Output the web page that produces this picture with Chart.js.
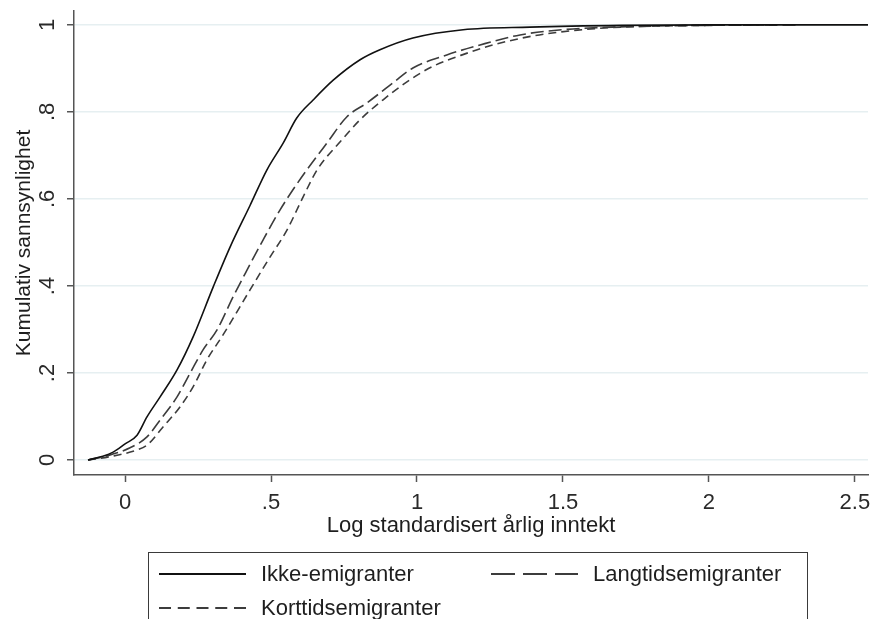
<!DOCTYPE html>
<html><head><meta charset="utf-8">
<script src="https://cdn.jsdelivr.net/npm/chart.js@4.4.1/dist/chart.umd.min.js"></script>
<style>
html,body{margin:0;padding:0;background:#fff;}
#wrap{position:relative;width:872px;height:619px;overflow:hidden;}
#legend{position:absolute;left:148px;top:552px;width:660px;height:90px;border:1.5px solid #3a3a3a;box-sizing:border-box;font-family:"Liberation Sans",Arial,sans-serif;font-size:22px;color:#1e1e1e;}
.item{position:absolute;display:flex;align-items:center;height:26px;white-space:nowrap;}
.item svg{margin-right:15px;}
</style></head>
<body>
<div id="wrap">
<canvas id="c" width="872" height="619"></canvas>
<div id="legend"></div>
</div>
<script>
// ---- data ----
const ikkeX = [-0.127,-0.08,-0.041,0.0,0.041,0.075,0.12,0.178,0.233,0.302,0.36,0.428,0.486,0.542,0.588,0.645,0.713,0.805,0.873,0.986,1.158,1.387,1.7,2.0,2.545];
const ikkeY = [0,0.008,0.018,0.037,0.057,0.099,0.145,0.207,0.283,0.398,0.49,0.585,0.667,0.729,0.786,0.828,0.873,0.92,0.943,0.970,0.989,0.995,0.999,1,1];

const langX = [-0.127,-0.06,0.017,0.075,0.12,0.178,0.223,0.267,0.315,0.37,0.418,0.473,0.531,0.575,0.623,0.692,0.76,0.829,0.918,0.986,1.102,1.216,1.353,1.5,1.67,2.0,2.3];
const langY = [0,0.01,0.028,0.053,0.092,0.145,0.2,0.253,0.299,0.375,0.437,0.506,0.575,0.621,0.667,0.729,0.789,0.821,0.867,0.901,0.931,0.954,0.977,0.989,0.995,0.999,1];

const kortX = [-0.127,-0.05,0.041,0.075,0.13,0.188,0.233,0.28,0.336,0.428,0.497,0.555,0.61,0.658,0.743,0.805,0.884,0.976,1.055,1.15,1.25,1.4,1.55,1.7,2.0,2.25];
const kortY = [0,0.008,0.023,0.034,0.076,0.122,0.168,0.23,0.288,0.391,0.467,0.529,0.605,0.667,0.736,0.782,0.828,0.874,0.905,0.93,0.952,0.975,0.988,0.995,0.999,1];

const seriesNames = ["Ikke-emigranter","Langtidsemigranter","Korttidsemigranter"];
const xTicks = [0,0.5,1,1.5,2,2.5];
const xTickLabels = ["0",".5","1","1.5","2","2.5"];
const yTicks = [0,0.2,0.4,0.6,0.8,1];
const yTickLabels = ["0",".2",".4",".6",".8","1"];
const xTitle = "Log standardisert årlig inntekt";
const yTitle = "Kumulativ sannsynlighet";

// ---- build chart ----
const pts = (xs, ys) => xs.map((x, i) => ({x: x, y: ys[i]}));
const FONT = "'Liberation Sans', Arial, sans-serif";

const styles = [
  {color:'#111111', dash:[], legendDash:''},
  {color:'#3c3c3c', dash:[13,5], legendDash:'24 8'},
  {color:'#3c3c3c', dash:[8,5], legendDash:'12 6.75'}
];
const dataSets = [pts(ikkeX, ikkeY), pts(langX, langY), pts(kortX, kortY)];

new Chart(document.getElementById('c'), {
  type: 'line',
  data: {
    datasets: dataSets.map((d, i) => ({
      label: seriesNames[i],
      data: d,
      borderColor: styles[i].color,
      borderWidth: 1.6,
      borderDash: styles[i].dash,
      pointRadius: 0,
      fill: false,
      cubicInterpolationMode: 'monotone'
    }))
  },
  options: {
    responsive: false,
    animation: false,
    devicePixelRatio: 1,
    layout: {padding: {left: 0, top: 11, right: 4, bottom: 79}},
    plugins: {legend: {display: false}, tooltip: {enabled: false}},
    scales: {
      x: {
        type: 'linear',
        min: -0.175, max: 2.545,
        afterBuildTicks: s => { s.ticks = xTicks.map(v => ({value: v})); },
        afterFit: s => { s.height = 65; s.paddingLeft = 0; s.paddingRight = 0; },
        ticks: {
          callback: (v) => { const k = xTicks.indexOf(v); return k >= 0 ? xTickLabels[k] : ''; },
          font: {family: FONT, size: 22}, color: '#2a2a2a', padding: 8, autoSkip: false, maxRotation: 0
        },
        grid: {drawOnChartArea: false, drawTicks: true, tickLength: 7, tickColor: '#555', tickWidth: 1.5},
        border: {display: true, color: '#555', width: 1.5},
        title: {display: true, text: xTitle, font: {family: FONT, size: 22}, color: '#1e1e1e', padding: {top: 0, bottom: 1}}
      },
      y: {
        type: 'linear',
        min: -0.0345, max: 1.032,
        afterBuildTicks: s => { s.ticks = yTicks.map(v => ({value: v})); },
        afterFit: s => { s.width = 74; s.paddingTop = 0; s.paddingBottom = 0; },
        ticks: {
          callback: (v) => { const k = yTicks.indexOf(v); return k >= 0 ? yTickLabels[k] : ''; },
          font: {family: FONT, size: 22}, color: '#2a2a2a', padding: 10, autoSkip: false,
          minRotation: 90, maxRotation: 90, crossAlign: 'center'
        },
        grid: {color: '#e6eff1', lineWidth: 1.5, drawTicks: true, tickLength: 7, tickColor: '#555', tickWidth: 1.5},
        border: {display: true, color: '#555', width: 1.5},
        title: {display: true, text: yTitle, font: {family: FONT, size: 21}, color: '#1e1e1e', padding: {top: 12, bottom: 0}}
      }
    }
  }
});

// ---- legend (HTML) ----
const legendPos = [{left:10, top:8}, {left:342, top:8}, {left:10, top:42}];
const lg = document.getElementById('legend');
seriesNames.forEach((name, i) => {
  const div = document.createElement('div');
  div.className = 'item';
  div.style.left = legendPos[i].left + 'px';
  div.style.top = legendPos[i].top + 'px';
  const dash = styles[i].legendDash ? ` stroke-dasharray="${styles[i].legendDash}"` : '';
  div.innerHTML = `<svg width="87" height="4"><line x1="0" y1="2" x2="87" y2="2" stroke="${styles[i].color}" stroke-width="2"${dash}/></svg><span>${name}</span>`;
  lg.appendChild(div);
});
</script>
</body></html>
